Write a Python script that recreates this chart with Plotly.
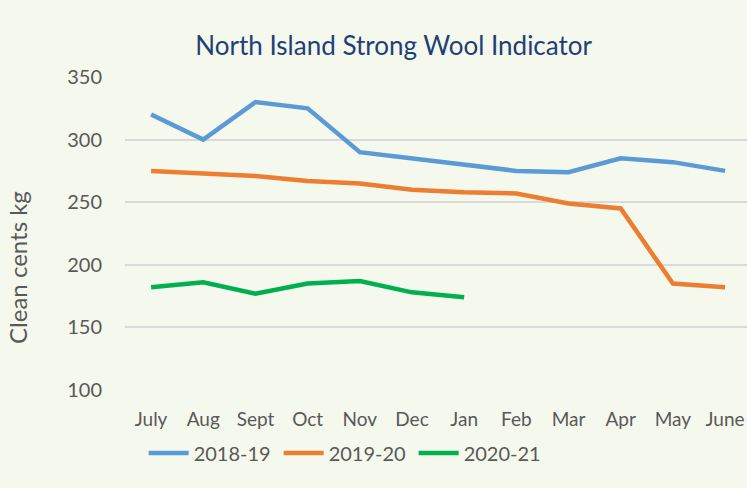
import plotly.graph_objects as go

months = ["July", "Aug", "Sept", "Oct", "Nov", "Dec", "Jan", "Feb", "Mar", "Apr", "May", "June"]
s2018_19 = [320, 300, 330, 325, 290, 285, 280, 275, 274, 285, 282, 275]
s2019_20 = [275, 273, 271, 267, 265, 260, 258, 257, 249, 245, 185, 182]
s2020_21 = [182, 186, 177, 185, 187, 178, 174]
y_ticks = [100, 150, 200, 250, 300, 350]

FONT = "Lato, Open Sans, sans-serif"
fig = go.Figure()
for name, vals, col in [("2018-19", s2018_19, "#5B9BD5"),
                        ("2019-20", s2019_20, "#ED7D31"),
                        ("2020-21", s2020_21, "#00B050")]:
    fig.add_trace(go.Scatter(x=months[:len(vals)], y=vals, name=name, mode="lines",
                             line=dict(color=col, width=4.5)))

fig.add_annotation(text="Clean cents kg", xref="paper", yref="paper",
                   x=-0.172, y=0.39, xanchor="center", yanchor="middle",
                   textangle=-90, showarrow=False,
                   font=dict(family=FONT, size=24, color="#595959"))

fig.update_layout(
    width=747, height=488,
    paper_bgcolor="#F5F8EC", plot_bgcolor="#F5F8EC",
    margin=dict(l=125, r=0, t=77, b=98),
    font=dict(family=FONT, color="#595959", size=19),
    title=dict(text="North Island Strong Wool Indicator", x=0.527, xanchor="center",
               y=0.905, yanchor="middle",
               font=dict(family=FONT, size=26, color="#1F3F77")),
    showlegend=True,
    legend=dict(orientation="h", x=0.03, xanchor="left", y=-0.139, yanchor="top",
                font=dict(size=20, color="#595959"), itemwidth=40,
                entrywidth=80, entrywidthmode="pixels", tracegroupgap=0),
    xaxis=dict(type="category", categoryorder="array", categoryarray=months,
               range=[-0.5, 11.42], showgrid=False, showline=False, ticks="",
               ticklabelstandoff=16, tickfont=dict(size=19)),
    yaxis=dict(range=[100, 350], tickvals=y_ticks, showgrid=True, gridcolor="#D9D9D9",
               gridwidth=1.5, zeroline=False, showline=False, ticks="",
               ticklabelstandoff=22, tickfont=dict(size=20), automargin=False),
)
fig.write_html("out.html", config={"displayModeBar": False},
               post_script="document.body.style.margin='0';")
